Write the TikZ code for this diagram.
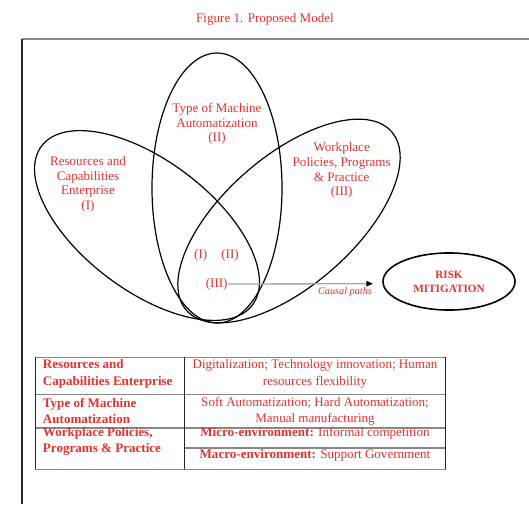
\documentclass[tikz,border=0pt]{standalone}
\usepackage{fontspec}
\setmainfont{Liberation Serif}
\usetikzlibrary{arrows.meta,shapes.geometric}
\definecolor{figred}{RGB}{232,48,44}
\definecolor{rulegray}{RGB}{135,135,135}
\tikzset{
    venn/.style={draw=black,line width=0.9pt},
    vennlabel/.style={text=figred,align=center,inner sep=0pt,font=\fontsize{9.8}{11}\selectfont},
    cellhead/.style={text=figred,align=left,anchor=west,inner sep=0pt,font=\bfseries\fontsize{9.8}{12.4}\selectfont},
    celltext/.style={text=figred,align=center,inner sep=0pt,font=\fontsize{9.8}{12.4}\selectfont},
    hrule/.style={draw=rulegray,line width=1.2pt},
    vrule/.style={draw=black!85,line width=0.75pt}
}
\begin{document}
\begin{tikzpicture}[x=0.75pt,y=-0.75pt]
    \useasboundingbox (0,0) rectangle (529,504);
    \node[vennlabel] (title) at (265,19) {Figure 1. Proposed Model};
    \draw[draw=rulegray,line width=1.4pt] (22,39) -- (529,39);
    \draw[black!85,line width=0.9pt] (22,39) -- (22,504);

    \begin{scope}
        \draw[venn] (217,188) ellipse [x radius=65, y radius=135];
        \draw[venn,rotate around={-37:(147,225.5)}] (147,225.5) ellipse [x radius=132, y radius=65];
        \draw[venn,rotate around={41:(289,221)}] (289,221) ellipse [x radius=136, y radius=65];
        \node[vennlabel] (resLabel) at (88,184.2) {Resources and\\Capabilities\\Enterprise\\(I)};
        \node[vennlabel] (machLabel) at (217,124) {Type of Machine\\Automatization\\(II)};
        \node[vennlabel] (workLabel) at (341.7,170.8) {Workplace\\Policies, Programs\\\& Practice\\(III)};
        \node[vennlabel] (lI) at (200.7,255) {(I)};
        \node[vennlabel] (lII) at (230,255) {(II)};
        \node[vennlabel] (lIII) at (216.7,284) {(III)};
    \end{scope}

    \node[draw=black,line width=1.2pt,ellipse,minimum width=99pt,minimum height=42.8pt,inner sep=0pt,
          text=figred,align=center,font=\bfseries\fontsize{8.4}{10.7}\selectfont] (risk) at (449,281.5) {RISK\\MITIGATION};
    \coordinate (arrowend) at (373,283.7);
    \draw[draw=black!35,line width=1pt,-{Triangle[black,length=5pt,width=4pt]}] (lIII.east) -- (arrowend);
    \node[text=figred,inner sep=0pt,font=\itshape\fontsize{7.7}{9}\selectfont] (causal) at (345,292) {Causal paths};

    \begin{scope}
        \draw[hrule] (35,357.3) -- (445.7,357.3);
        \draw[hrule] (35,394.3) -- (445.7,394.3);
        \draw[hrule] (35,427.7) -- (445.7,427.7);
        \draw[hrule] (184.3,447.7) -- (445.7,447.7);
        \draw[hrule] (35,469.3) -- (445.7,469.3);
        \draw[vrule] (35,357.3) -- (35,469.3);
        \draw[vrule] (184.3,357.3) -- (184.3,469.3);
        \draw[vrule] (445.7,357.3) -- (445.7,469.3);
        \node[cellhead] (headRes) at (42.7,374) {Resources and\\Capabilities Enterprise};
        \node[celltext] (cellRes) at (315,374) {Digitalization; Technology innovation; Human\\resources flexibility};
        \node[cellhead] (headMach) at (42.7,411.2) {Type of Machine\\Automatization};
        \node[celltext] (cellMach) at (315,411.2) {Soft Automatization; Hard Automatization;\\Manual manufacturing};
        \node[cellhead] (headWork) at (42.7,441.2) {Workplace Policies,\\Programs \& Practice};
        \node[celltext] (cellMicro) at (315,433.3) {\textbf{Micro-environment:} Informal competition};
        \node[celltext] (cellMacro) at (315,455.7) {\textbf{Macro-environment:} Support Government};
    \end{scope}
\end{tikzpicture}
\end{document}
